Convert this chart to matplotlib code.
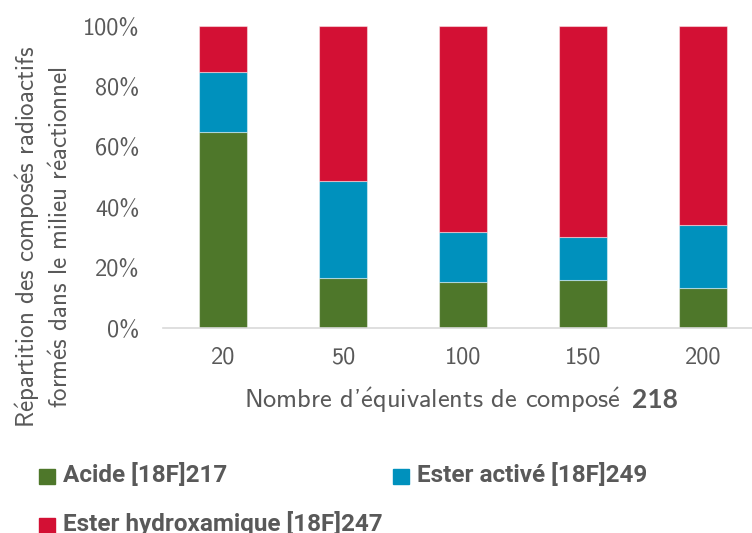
import matplotlib
matplotlib.use("Agg")
import matplotlib.pyplot as plt
from matplotlib.patches import Rectangle
from matplotlib.ticker import PercentFormatter
from matplotlib.offsetbox import TextArea, HPacker, AnnotationBbox

# data (fractions of total)
categories = ["20", "50", "100", "150", "200"]
acide = [0.648, 0.167, 0.151, 0.160, 0.132]
ester_active = [0.199, 0.321, 0.167, 0.142, 0.209]
ester_hydrox = [1 - a - b for a, b in zip(acide, ester_active)]

series_names = ["Acide [18F]217", "Ester activé [18F]249", "Ester hydroxamique [18F]247"]
colors = ["#4E772A", "#0091BD", "#D31034"]

grey = "#595959"
plt.rcParams["font.family"] = ["cmss10", "DejaVu Sans"]
plt.rcParams["mathtext.fontset"] = "cm"
plt.rcParams["axes.unicode_minus"] = False

E = r"$\mathsf{\acute{e}}$"  # cmss10 has no é glyph

W, H = 752, 533
fig = plt.figure(figsize=(W / 100, H / 100), dpi=100)
ax = fig.add_axes([163 / W, (H - 328) / H, 600 / W, 302 / H])

x = range(len(categories))
bottom = [0] * len(categories)
for vals, col in zip([acide, ester_active, ester_hydrox], colors):
    ax.bar(x, vals, width=0.4, bottom=bottom, color=col,
           edgecolor=(1, 1, 1, 0.45), linewidth=0.8, zorder=2)
    bottom = [b + v for b, v in zip(bottom, vals)]

ax.set_xlim(-0.5, 4.5)
ax.set_ylim(0, 1)
ax.set_xticks(list(x))
ax.set_xticklabels(categories)
ax.set_yticks([0, 0.2, 0.4, 0.6, 0.8, 1.0])
ax.yaxis.set_major_formatter(PercentFormatter(1.0, decimals=0))
for s in ["top", "right", "left"]:
    ax.spines[s].set_visible(False)
ax.spines["bottom"].set_color("#D9D9D9")
ax.spines["bottom"].set_linewidth(1.2)
ax.tick_params(axis="both", length=0, labelsize=17.5, labelcolor=grey)
ax.tick_params(axis="y", pad=17)
ax.tick_params(axis="x", pad=13)

# x label: regular part + bold number, packed and centred under the axes
xl_reg = TextArea("Nombre d'" + E + "quivalents de compos" + E,
                  textprops=dict(fontsize=19, color=grey))
xl_bold = TextArea("218", textprops=dict(fontsize=19, color=grey, fontweight="bold",
                                         family="Lato"))
xl = HPacker(children=[xl_reg, xl_bold], align="baseline", pad=0, sep=8)
ab = AnnotationBbox(xl, (461 / W, 1 - 400 / H), xycoords="figure fraction",
                    box_alignment=(0.5, 0.5), frameon=False)
fig.add_artist(ab)

fig.text(43 / W, 1 - 237 / H,
         "R" + E + "partition des compos" + E + "s radioactifs\n"
         "form" + E + "s dans le milieu r" + E + "actionnel",
         rotation=90, ha="center", va="center", ma="center",
         fontsize=18, color=grey, linespacing=1.4)

# legend drawn by hand, Excel style (second row sits at the figure edge)
leg_pos = [(39, 482), (393, 482), (39, 531)]
for (px, py), name, col in zip(leg_pos, series_names, colors):
    fig.patches.append(Rectangle((px / W, 1 - (py + 2) / H), 16 / W, 15 / H,
                                 transform=fig.transFigure, color=col))
    fig.text((px + 24) / W, 1 - py / H, name, ha="left", va="baseline",
             fontsize=17.5, fontweight="bold", color=grey, family="Roboto")

fig.savefig("out.png", dpi=100)
